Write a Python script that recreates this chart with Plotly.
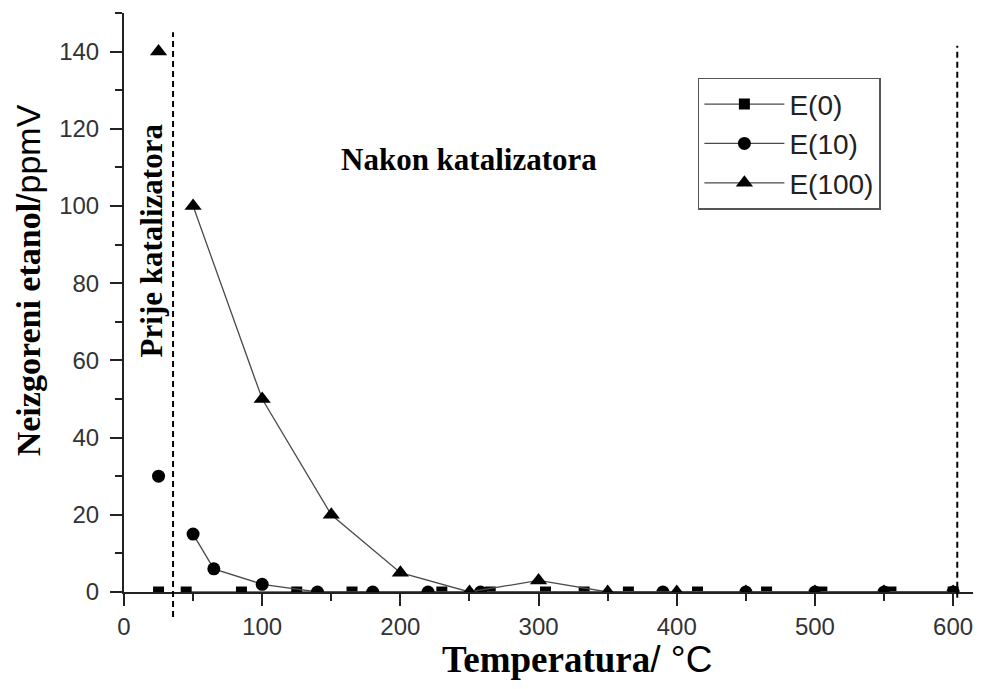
import plotly.graph_objects as go

# Data (temperature in degC, unburnt ethanol in ppmV)
# point measured before the catalyst (ambient)
pre_x = 25
e0_pre, e10_pre, e100_pre = 0, 30, 140

# points measured after the catalyst
e0_x = [45, 85, 125, 165, 230, 265, 305, 333, 365, 415, 465, 505, 555, 600]
e0_y = [0, 0, 0, 0, 0, 0, 0, 0, 0, 0, 0, 0, 0, 0]

e10_x = [50, 65, 100, 140, 180, 220, 258, 390, 450, 500, 550, 600]
e10_y = [15, 6, 2, 0, 0, 0, 0, 0, 0, 0, 0, 0]

e100_x = [50, 100, 150, 200, 250, 300, 350, 400, 450, 500, 550, 600]
e100_y = [100, 50, 20, 5, 0, 3, 0, 0, 0, 0, 0, 0]

series = [
    ("E(0)", e0_pre, e0_x, e0_y, "square", 11),
    ("E(10)", e10_pre, e10_x, e10_y, "circle", 13),
    ("E(100)", e100_pre, e100_x, e100_y, "triangle-up", 15),
]

# catalyst boundaries (dashed lines) and axis ranges
left_boundary = 35.5
right_boundary = 603
X_MAX = 618
Y_MAX = 150

fig = go.Figure()

for name, pre_y, xs, ys, symbol, size in series:
    # None breaks the line between the pre-catalyst point and the rest
    fig.add_trace(
        go.Scatter(
            x=[pre_x, None] + xs,
            y=[pre_y, None] + ys,
            mode="lines+markers",
            name=name,
            connectgaps=False,
            line=dict(color="#4a4a4a", width=1.3),
            marker=dict(symbol=symbol, size=size, color="black"),
        )
    )

# dashed boundary lines (paper coords so they can run past the axis)
for xv, ytop, ybot in [(left_boundary, 145, -6.5), (right_boundary, 141.5, -1.5)]:
    fig.add_shape(
        type="line",
        xref="paper",
        yref="paper",
        x0=xv / X_MAX,
        x1=xv / X_MAX,
        y0=ybot / Y_MAX,
        y1=ytop / Y_MAX,
        line=dict(color="black", width=2, dash="6px,4px"),
    )

serif = "Times New Roman, Liberation Serif, serif"
sans = "Arial, Liberation Sans, sans-serif"

fig.add_annotation(
    x=250, y=112, xref="x", yref="y",
    text="<b>Nakon katalizatora</b>",
    showarrow=False,
    font=dict(family=serif, size=31, color="black"),
)
fig.add_annotation(
    x=20, y=91, xref="x", yref="y",
    text="<b>Prije katalizatora</b>",
    textangle=-90,
    showarrow=False,
    font=dict(family=serif, size=31, color="black"),
)

# axis titles: bold serif name + plain sans unit
fig.add_annotation(
    x=0.53, y=-0.117, xref="paper", yref="paper",
    xanchor="center", yanchor="middle",
    text="<b>Temperatura</b><span style='font-family:Arial, Liberation Sans'>/ °C</span>",
    showarrow=False,
    font=dict(family=serif, size=37, color="black"),
)
fig.add_annotation(
    x=-0.112, y=0.539, xref="paper", yref="paper",
    xanchor="center", yanchor="middle",
    text="<b>Neizgoreni etanol</b><span style='font-family:Arial, Liberation Sans'>/ppmV</span>",
    textangle=-90,
    showarrow=False,
    font=dict(family=serif, size=34, color="black"),
)

axis_common = dict(
    showline=True,
    linecolor="#222",
    linewidth=2,
    ticks="outside",
    ticklen=12,
    tickwidth=2,
    tickcolor="#222",
    showgrid=False,
    zeroline=False,
    tickfont=dict(family=sans, size=24, color="#333"),
    mirror=False,
)

fig.update_xaxes(
    range=[0, X_MAX],
    tick0=0,
    dtick=100,
    minor=dict(ticks="outside", ticklen=7, tickwidth=2, tickcolor="#222", dtick=50),
    **axis_common,
)
fig.update_yaxes(
    range=[0, Y_MAX],
    tick0=0,
    dtick=20,
    ticklabelstandoff=6,
    minor=dict(ticks="outside", ticklen=7, tickwidth=2, tickcolor="#222", dtick=10),
    **axis_common,
)

# page body has an 8px margin, so the figure is sized to fit inside it
fig.update_layout(
    width=973,
    height=681,
    plot_bgcolor="white",
    paper_bgcolor="white",
    margin=dict(l=116, r=3, t=5, b=97),
    legend=dict(
        x=0.672,
        y=0.888,
        xanchor="left",
        yanchor="top",
        bgcolor="white",
        bordercolor="#555",
        borderwidth=1.5,
        itemwidth=80,
        font=dict(family=sans, size=28, color="#222"),
        tracegroupgap=0,
    ),
)

fig.write_html("out.html")
